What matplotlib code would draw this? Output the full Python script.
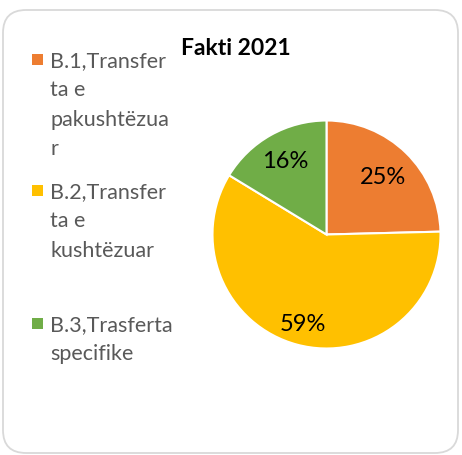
import matplotlib
matplotlib.use("Agg")
import matplotlib.pyplot as plt
from matplotlib.patches import FancyBboxPatch, Rectangle
import numpy as np

# ---- data ----
categories = ["B.1,Transferta e pakushtëzuar",
              "B.2,Transferta e kushtëzuar",
              "B.3,Trasferta specifike"]
legend_lines = [["B.1,Transfer", "ta e", "pakushtëzua", "r"],
                ["B.2,Transfer", "ta e", "kushtëzuar"],
                ["B.3,Trasferta", "specifike"]]
values = [24.6, 59.1, 16.3]
title = "Fakti 2021"

colors = ["#ED7D31", "#FFC000", "#70AD47"]
W, H = 462, 456
DPI = 100
FONT = "Lato"

fig = plt.figure(figsize=(W / DPI, H / DPI), dpi=DPI)
fig.patch.set_facecolor("white")

def fx(px):
    return px / W

def fy(py):
    return 1 - py / H

# rounded frame
frame = FancyBboxPatch((fx(3), fy(454)), fx(455), 443 / H,
                       boxstyle="round,pad=0,rounding_size=0.05",
                       transform=fig.transFigure, facecolor="none",
                       edgecolor="#d9d9d9", linewidth=1.3, zorder=-5)
fig.patches.append(frame)

# pie
cx, cy, R = 326.5, 235.5, 114
ax = fig.add_axes([fx(cx - R), fy(cy + R), 2 * R / W, 2 * R / H])
ax.set_zorder(2)
wedges, texts, autotexts = ax.pie(values, colors=colors, startangle=90,
                                  counterclock=False,
                                  autopct=lambda p: f"{p:.0f}%",
                                  pctdistance=0.72,
                                  wedgeprops=dict(edgecolor="white", linewidth=1.5),
                                  textprops=dict(fontsize=17, color="black",
                                                 family=FONT))
ax.set_xlim(-1.0, 1.0)
ax.set_ylim(-1.0, 1.0)
ax.set_aspect("equal")
ax.axis("off")

label_r = [0.71, 0.81, 0.745]
for w, t, r in zip(wedges, autotexts, label_r):
    ang = np.deg2rad((w.theta1 + w.theta2) / 2)
    t.set_position((r * np.cos(ang), r * np.sin(ang)))
    t.set_ha("center")
    t.set_va("center")

# title
fig.text(fx(236), fy(55), title, ha="center", va="baseline",
         fontsize=16.5, fontweight="bold", family=FONT, color="black")

# legend
item_base = [67, 198, 331]
step = 29.5
for lines, col, b in zip(legend_lines, colors, item_base):
    fig.patches.append(Rectangle((fx(32), fy(b - 1)), 11 / W, 11 / H,
                                 transform=fig.transFigure, facecolor=col,
                                 edgecolor="none"))
    for k, ln in enumerate(lines):
        fig.text(fx(50), fy(b + k * step), ln, ha="left", va="baseline",
                 fontsize=15.5, family=FONT, color="#595959")

fig.savefig("out.png", dpi=DPI)
